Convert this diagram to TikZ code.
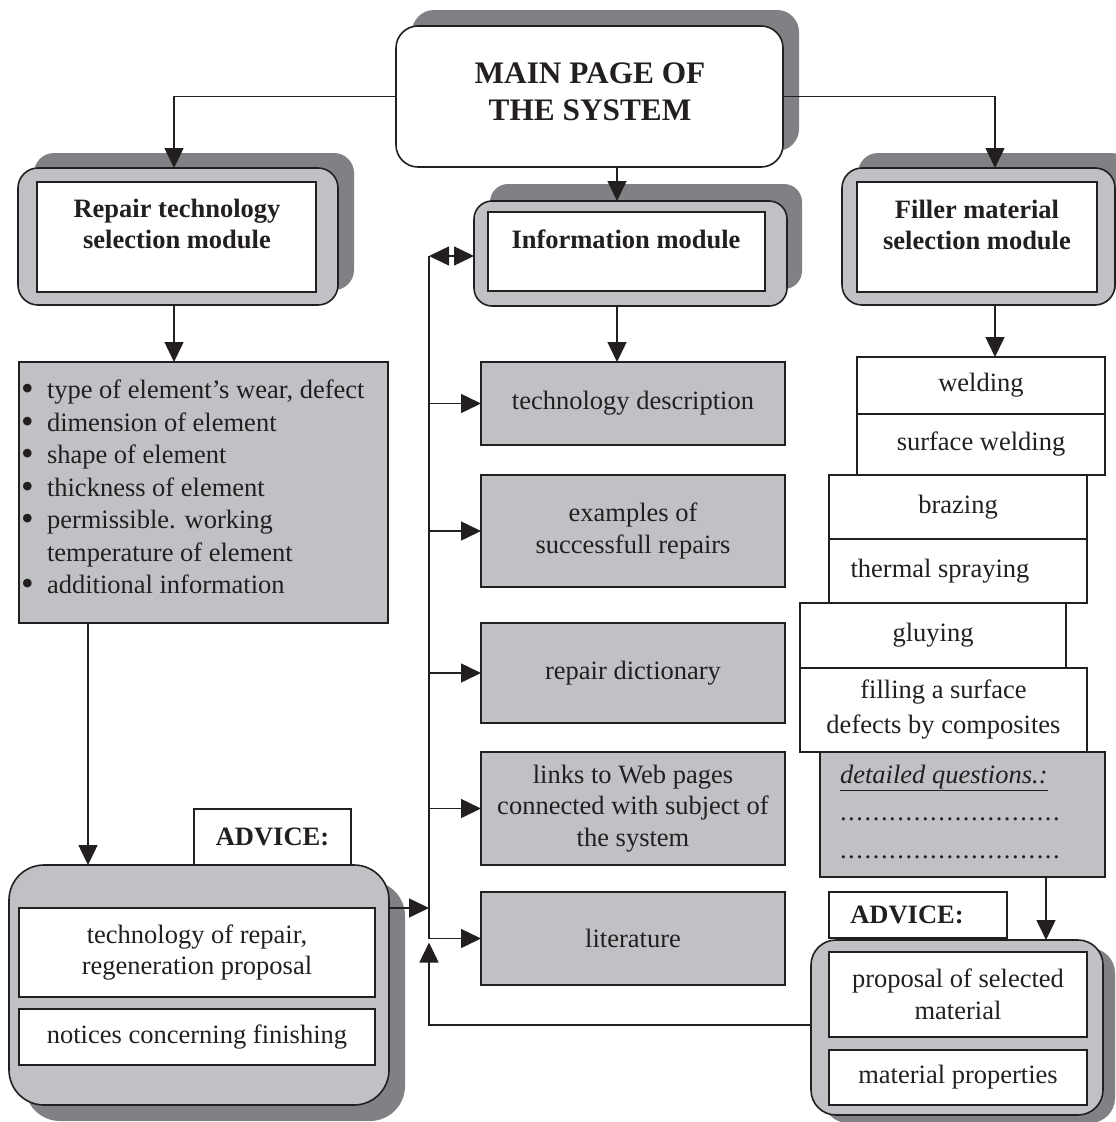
\documentclass[tikz,border=0pt]{standalone}
\usepackage{fontspec}
\setmainfont{Liberation Serif}
\usetikzlibrary{arrows.meta,calc}
\definecolor{lgray}{RGB}{192,193,196}
\definecolor{dgray}{RGB}{128,129,132}
\definecolor{ink}{RGB}{35,31,32}
\newcommand\myN{\fontsize{26.5}{31.5}\selectfont}
\newcommand\myB{\fontsize{26.5}{31}\selectfont\bfseries}
\newcommand\myT{\fontsize{31.3}{37}\selectfont\bfseries}
\newcommand\myBul{\makebox[26pt][l]{\smash{\raisebox{-2pt}{\fontsize{36}{36}\selectfont •}}}}
\newcommand\myInd{\hspace*{26pt}}
\newcommand\myD{\makebox[8.2pt][l]{.}}
\newcommand\myDn{\myD\myD\myD\myD\myD\myD\myD\myD\myD}
\newcommand\myDots{\myDn\myDn\myDn}
\begin{document}
\begin{tikzpicture}[x=1pt,y=-1pt,
  every node/.style={inner sep=0pt, outer sep=0pt, text=ink},
  wbox/.style={draw=ink, line width=1.6pt, fill=white, align=center, font=\myN},
  gbox/.style={draw=ink, line width=1.6pt, fill=lgray, align=center, font=\myN},
  obox/.style={draw=ink, line width=1.6pt, fill=lgray, rounded corners=#1},
  obox/.default=20pt,
  shad/.style={fill=dgray, rounded corners=#1},
  conn/.style={draw=ink, line width=1.5pt},
  >={Triangle[length=20pt,width=19pt]},
]
\useasboundingbox (0,0) rectangle (1116,1122);

% ---- main page
\fill[shad=22pt] (412,10) rectangle (799,151);
\node[obox=22pt, fill=white, minimum width=387pt, minimum height=141pt] (main) at (589.5,96.5) {};
\node[font=\myT, align=center] (mainT) at (590,92) {MAIN PAGE OF\\THE SYSTEM};

% ---- repair module
\fill[shad=20pt] (34,153) rectangle (354,290);
\node[obox, minimum width=320pt, minimum height=137pt] (repO) at (178,236.5) {};
\node[wbox, minimum width=279pt, minimum height=110pt] (repI) at (176.5,237) {};
\node[font=\myB, align=center] (repT) at (177,224) {Repair technology\\selection module};

% ---- information module
\fill[shad=18pt] (490,184) rectangle (802,289);
\node[obox=18pt, minimum width=313pt, minimum height=105pt] (infoO) at (630.5,253.5) {};
\node[wbox, minimum width=277pt, minimum height=79pt] (infoI) at (626.5,251.5) {};
\node[font=\myB] (infoT) at (626,239) {Information module};

% ---- filler module
\fill[shad=20pt] (858,153) rectangle (1131,290);
\node[obox, minimum width=273pt, minimum height=137pt] (filO) at (978.5,236.5) {};
\node[wbox, minimum width=240pt, minimum height=110pt] (filI) at (977,237) {};
\node[font=\myB, align=center] (filT) at (977,225) {Filler material\\selection module};

% ---- bullet list
\node[gbox, minimum width=369pt, minimum height=261pt] (bul) at (203.5,492.5) {};
\node[font=\fontsize{26.5}{32.5}\selectfont, align=left, anchor=west] (bulT) at (21,487)
 {\myBul type of element’s wear, defect\\
  \myBul dimension of element\\
  \myBul shape of element\\
  \myBul thickness of element\\
  \myBul permissible. working\\
  \myInd temperature of element\\
  \myBul additional information};

% ---- middle column
\node[gbox, minimum width=304pt, minimum height=83pt] (tech) at (633,403.5) {technology description};
\node[gbox, minimum width=304pt, minimum height=112pt] (exam) at (633,531) {examples of\\successfull repairs};
\node[gbox, minimum width=304pt, minimum height=100pt] (dict) at (633,673) {repair dictionary};
\node[gbox, minimum width=304pt, minimum height=113pt] (link) at (633,808.5) {links to Web pages\\connected with subject of\\the system};
\node[gbox, minimum width=304pt, minimum height=93pt] (lit) at (633,938.5) {literature};

% ---- right stack
\node[wbox, minimum width=248pt, minimum height=57pt] (weld) at (981,385.5) {welding};
\node[wbox, minimum width=248pt, minimum height=61pt] (surf) at (981,444.5) {surface welding};
\node[wbox, minimum width=258pt, minimum height=64pt] (braz) at (958,507) {brazing};
\node[wbox, minimum width=258pt, minimum height=64pt] (therm) at (958,571) {thermal spraying\hspace*{36pt}};
\node[wbox, minimum width=266pt, minimum height=65pt] (gluy) at (933,635.5) {gluying};
\node[wbox, minimum width=287pt, minimum height=84pt, font=\fontsize{26.5}{35}\selectfont] (fill) at (943.5,710) {filling a surface\\defects by composites};
\node[gbox, minimum width=285pt, minimum height=125pt] (det) at (962.5,814.5) {};
\node[font=\fontsize{26.5}{37.5}\selectfont, align=left, anchor=north west] (detT) at (840,765)
 {\textit{\underline{detailed questions.:}}\\\myDots\\\myDots};

% ---- right advice
\node[wbox, minimum width=178pt, minimum height=46pt, font=\myB] (advRL) at (918,915) {ADVICE:\hspace*{22pt}};
\fill[shad=25pt] (823,948) rectangle (1115,1123);
\node[obox=25pt, minimum width=292pt, minimum height=175pt] (advRO) at (957,1027.5) {};
\node[wbox, minimum width=258pt, minimum height=85pt] (prop) at (958,994.5) {proposal of selected\\material};
\node[wbox, minimum width=258pt, minimum height=55pt] (mprop) at (958,1077.5) {material properties};

% ---- left advice
\node[wbox, minimum width=157pt, minimum height=56pt, font=\myB] (advLL) at (272.5,837) {ADVICE:};
\fill[shad=35pt] (25,881) rectangle (405,1121);
\node[obox=35pt, minimum width=380pt, minimum height=240pt] (advLO) at (199,985) {};
\node[wbox, minimum width=356pt, minimum height=89pt] (trep) at (197,952.5) {technology of repair,\\regeneration proposal};
\node[wbox, minimum width=356pt, minimum height=56pt] (noti) at (197,1037) {notices concerning finishing};

% ---- connectors
\coordinate (vt) at (429,256);
\coordinate (cm) at (617,0);
\coordinate (cl) at (174,0);
\coordinate (cr) at (995,0);
\coordinate (cb) at (88,0);
\coordinate (cd) at (1046,0);

\draw[conn,->] (main.west) -| (cl |- repO.north);
\draw[conn,->] (main.east) -| (cr |- filO.north);
\draw[conn,->] (main.south -| cm) -- (infoO.north -| cm);
\draw[conn,->] (repO.south -| cl) -- (bul.north -| cl);
\draw[conn,->] (infoO.south -| cm) -- (tech.north -| cm);
\draw[conn,->] (filO.south -| cr) -- (weld.north -| cr);
\draw[conn,->] (bul.south -| cb) -- (advLO.north -| cb);
\draw[conn,->] (det.south -| cd) -- (advRO.north -| cd);

\draw[conn,<->] (vt) -- (vt -| infoO.west);
\draw[conn,->] (vt) -- (vt |- lit.west) -- (lit.west);
\foreach \n in {tech,exam,dict,link} \draw[conn,->] (vt |- \n.west) -- (\n.west);
\draw[conn,->] ($(advLO.north east)+(0,43)$) coordinate (a1) -- (a1 -| vt);
\draw[conn,->] ($(advRO.south west)+(0,-90)$) -| ($(vt |- lit.west)+(0,4)$);
\end{tikzpicture}
\end{document}
